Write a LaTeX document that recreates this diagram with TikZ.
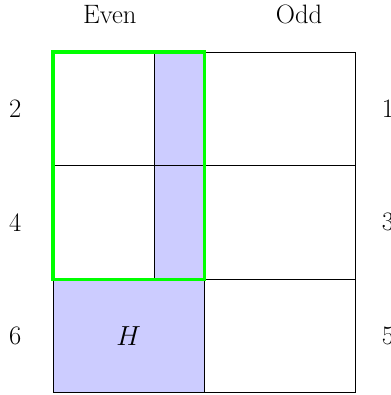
\documentclass[tikz,border=0pt]{standalone}
\usetikzlibrary{positioning}
\tikzset{every node/.style={font=\fontsize{20}{24}\selectfont},line cap=round,line join=round}
\tikzset{shade cell/.style={fill=blue!20},frame/.style={draw=green,line width=2.4pt}}

\begin{document}
\begin{tikzpicture}[x=1mm,y=1mm,line width=0.6pt]
  \path[use as bounding box] (-14,-0.6) rectangle (89.15,103.76);
  % shaded parts
  \fill[shade cell] (0,0) rectangle (40,30);
  \fill[shade cell] (26.67,30) rectangle (40,90);
  % grid
  \draw (0,0) rectangle (80,90);
  \draw (40,0) -- (40,90);
  \draw (0,30) -- (80,30);
  \draw (0,60) -- (80,60);
  \draw (26.67,30) -- (26.67,90);
  \draw[frame] (0,30) rectangle (40,90);
  \node (h) at (20,15) {$H$};
  % labels
  \node (even) at (15,100) {Even};
  \node (odd) at (65,100) {Odd};
  \node (two) at (-10,75) {2};
  \node (four) at (-10,45) {4};
  \node (six) at (-10,15) {6};
  \node (one) at (88.5,75) {1};
  \node (three) at (88.5,45) {3};
  \node (five) at (88.5,15) {5};
\end{tikzpicture}
\end{document}
